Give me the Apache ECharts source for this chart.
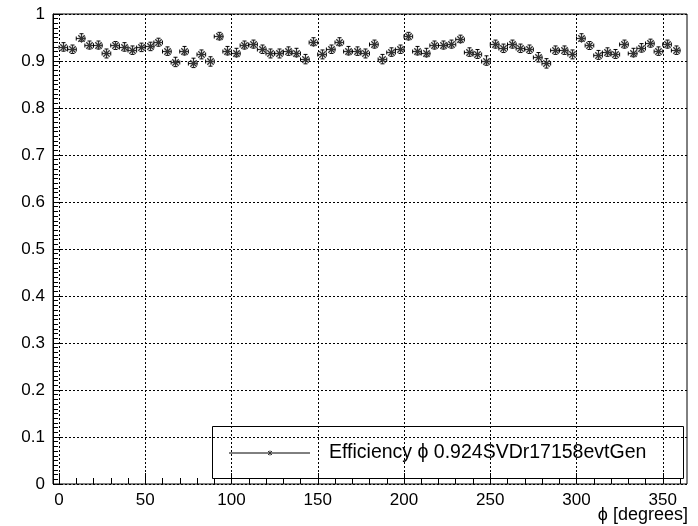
<!DOCTYPE html>
<html><head><meta charset="utf-8">
<script src="https://cdn.jsdelivr.net/npm/echarts@6/dist/echarts.min.js"></script>
<style>html,body{margin:0;padding:0;background:#fff}#c{width:698px;height:526px}</style>
</head><body><div id="c"></div>
<script>
// bin centres (degrees)
const phiCenters = [2.5,7.5,12.5,17.5,22.5,27.5,32.5,37.5,42.5,47.5,52.5,57.5,62.5,67.5,72.5,77.5,82.5,87.5,92.5,97.5,
  102.5,107.5,112.5,117.5,122.5,127.5,132.5,137.5,142.5,147.5,152.5,157.5,162.5,167.5,172.5,177.5,182.5,187.5,192.5,197.5,
  202.5,207.5,212.5,217.5,222.5,227.5,232.5,237.5,242.5,247.5,252.5,257.5,262.5,267.5,272.5,277.5,282.5,287.5,292.5,297.5,
  302.5,307.5,312.5,317.5,322.5,327.5,332.5,337.5,342.5,347.5,352.5,357.5];
// half bin width (x error)
const phiHalfWidth = [2.5,2.5,2.5,2.5,2.5,2.5,2.5,2.5,2.5,2.5,2.5,2.5,2.5,2.5,2.5,2.5,2.5,2.5,2.5,2.5,
  2.5,2.5,2.5,2.5,2.5,2.5,2.5,2.5,2.5,2.5,2.5,2.5,2.5,2.5,2.5,2.5,2.5,2.5,2.5,2.5,
  2.5,2.5,2.5,2.5,2.5,2.5,2.5,2.5,2.5,2.5,2.5,2.5,2.5,2.5,2.5,2.5,2.5,2.5,2.5,2.5,
  2.5,2.5,2.5,2.5,2.5,2.5,2.5,2.5,2.5,2.5,2.5,2.5];
// efficiency values
const efficiency = [0.930,0.925,0.950,0.934,0.934,0.916,0.933,0.930,0.923,0.929,
  0.931,0.940,0.921,0.898,0.922,0.896,0.914,0.899,0.953,0.922,
  0.918,0.934,0.936,0.925,0.916,0.916,0.921,0.918,0.904,0.941,
  0.914,0.925,0.941,0.922,0.921,0.916,0.936,0.904,0.919,0.925,
  0.953,0.922,0.918,0.934,0.934,0.936,0.947,0.919,0.915,0.901,
  0.936,0.927,0.936,0.927,0.925,0.908,0.895,0.923,0.923,0.914,
  0.950,0.933,0.913,0.919,0.915,0.936,0.918,0.928,0.938,0.921,
  0.936,0.923];
// efficiency errors
const efficiencyErr = [0.009,0.009,0.008,0.0085,0.0085,0.0095,0.0085,0.009,0.009,0.009,
  0.009,0.0085,0.009,0.010,0.009,0.010,0.0095,0.010,0.008,0.009,
  0.009,0.0085,0.0085,0.009,0.0095,0.0095,0.009,0.009,0.010,0.0085,
  0.0095,0.009,0.0085,0.009,0.009,0.0095,0.0085,0.010,0.009,0.009,
  0.008,0.009,0.009,0.0085,0.0085,0.0085,0.008,0.009,0.0095,0.010,
  0.0085,0.009,0.0085,0.009,0.009,0.010,0.010,0.009,0.009,0.0095,
  0.008,0.0085,0.0095,0.009,0.0095,0.0085,0.009,0.009,0.0085,0.009,
  0.0085,0.009];
const xTickValues = [0,50,100,150,200,250,300,350];
const yTickLabels = ['0','0.1','0.2','0.3','0.4','0.5','0.6','0.7','0.8','0.9','1'];
const legendLabel = 'Efficiency \u03D5 0.924SVDr17158evtGen';
const xTitle = '\u03D5 [degrees]';

const FONT = '"Liberation Sans", Arial, sans-serif';
const chart = echarts.init(document.getElementById('c'), null, {renderer:'canvas'});

function renderItem(params, api){
  const x = api.value(0), y = api.value(1), e = api.value(2), xe = api.value(3);
  const c = api.coord([x, y]);
  const l = api.coord([x - xe, y]), r = api.coord([x + xe, y]);
  const t = api.coord([x, y + e]), b = api.coord([x, y - e]);
  const cx = Math.round(c[0]) + 0.5, cy = Math.round(c[1]) + 0.5;
  const cap = 2, m = 3.2;
  const st = {stroke:'#000', lineWidth:1};
  const ln = (x1,y1,x2,y2,s)=>({type:'line', shape:{x1,y1,x2,y2}, style:s||st});
  const ms = {stroke:'#333', lineWidth:1.3};
  return {type:'group', children:[
    ln(l[0], cy, r[0], cy),
    ln(cx, t[1], cx, b[1]),
    ln(cx-cap, t[1], cx+cap, t[1]),
    ln(cx-cap, b[1], cx+cap, b[1]),
    ln(l[0], cy-cap, l[0], cy+cap),
    ln(r[0], cy-cap, r[0], cy+cap),
    ln(cx-m, cy-m, cx+m, cy+m, ms),
    ln(cx-m, cy+m, cx+m, cy-m, ms),
    ln(cx-m-1, cy, cx+m+1, cy, ms),
    ln(cx, cy-m-1, cx, cy+m+1, ms)
  ]};
}

const gridLine = {show:true, lineStyle:{color:'#000', width:1, type:[2,2]}};
const option = {
  animation:false,
  backgroundColor:'#fff',
  grid:[
    {left:59, right:18, top:14, bottom:42, show:false, containLabel:false, outerBoundsMode:'none'},
    {left:53, right:11, top:14, bottom:42, show:true, borderColor:'#000', borderWidth:1, containLabel:false, outerBoundsMode:'none'}
  ],
  xAxis:[{
    gridIndex:0, type:'value', min:0, max:360, interval:50,
    axisLine:{show:false},
    axisTick:{show:true, inside:true, length:11, customValues:xTickValues, lineStyle:{color:'#000'}},
    axisLabel:{show:true, customValues:xTickValues, color:'#000', fontSize:17, fontFamily:FONT, margin:8},
    splitLine:gridLine
  },{
    gridIndex:0, type:'value', min:0, max:360, interval:10, position:'bottom',
    axisLine:{show:false}, axisTick:{show:true, inside:true, length:6, lineStyle:{color:'#000'}},
    axisLabel:{show:false}, splitLine:{show:false}
  },{
    gridIndex:1, type:'value', min:-3.6, max:363.6, show:false
  }],
  yAxis:[{
    gridIndex:0, type:'value', min:0, max:1, show:false
  },{
    gridIndex:1, type:'value', min:0, max:1, interval:0.1,
    axisLine:{show:true, onZero:false, lineStyle:{color:'#000', width:1}},
    axisTick:{show:true, inside:true, length:9, lineStyle:{color:'#000'}},
    minorTick:{show:true, splitNumber:10, length:5, lineStyle:{color:'#000'}},
    axisLabel:{color:'#000', fontSize:17, fontFamily:FONT, margin:8,
      formatter:(v)=>{ const s = String(Math.round(v*10)/10); return yTickLabels.indexOf(s) >= 0 ? s : ''; }},
    splitLine:{show:true, lineStyle:{color:'#000', width:1, type:[2,2]}}
  }],
  graphic:[{
    type:'group', left:212, top:426, z:100,
    children:[
      {type:'rect', shape:{x:0.5, y:0.5, width:471, height:52}, style:{fill:'rgba(0,0,0,0)', stroke:'#000', lineWidth:1}},
      {type:'line', shape:{x1:17, y1:27, x2:98, y2:27}, style:{stroke:'#000', lineWidth:1}},
      {type:'line', shape:{x1:56, y1:25, x2:60, y2:29}, style:{stroke:'#333', lineWidth:1}},
      {type:'line', shape:{x1:56, y1:29, x2:60, y2:25}, style:{stroke:'#333', lineWidth:1}},
      {type:'line', shape:{x1:58, y1:24.5, x2:58, y2:29.5}, style:{stroke:'#333', lineWidth:1}},
      {type:'text', x:117, y:27, style:{text:legendLabel, font:'19.5px ' + FONT, fill:'#000', verticalAlign:'middle'}}
    ]
  },{
    type:'text', right:10, top:506, z:100,
    style:{text:xTitle, font:'18px ' + FONT, fill:'#000'}
  }],
  series:[{
    type:'custom', xAxisIndex:0, yAxisIndex:0, clip:false,
    renderItem:renderItem,
    encode:{x:0, y:1},
    data:phiCenters.map((p,i)=>[p, efficiency[i], efficiencyErr[i], phiHalfWidth[i]])
  }]
};
chart.setOption(option);
</script>
</body></html>
